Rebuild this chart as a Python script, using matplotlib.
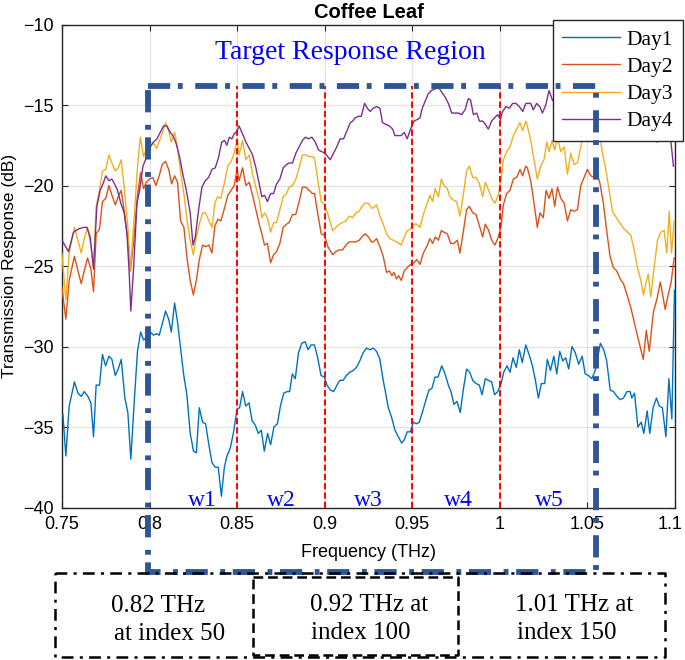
import matplotlib
matplotlib.use('Agg')
import matplotlib.pyplot as plt
from matplotlib.lines import Line2D
from matplotlib.transforms import ScaledTranslation

plt.rcParams['lines.scale_dashes'] = False
plt.rcParams['font.family'] = ['Liberation Sans', 'DejaVu Sans']

# ---------------- data ----------------
day1_freq = [0.7505, 0.7522, 0.7541, 0.7571, 0.7591, 0.7610, 0.7627, 0.7648, 0.7665, 0.7680,
             0.7695, 0.7714, 0.7731, 0.7749, 0.7768, 0.7785, 0.7804, 0.7821, 0.7838, 0.7859,
             0.7876, 0.7893, 0.7912, 0.7931, 0.7949, 0.7966, 0.7985, 0.8004, 0.8023, 0.8040,
             0.8055, 0.8070, 0.8091, 0.8109, 0.8124, 0.8143, 0.8160, 0.8175, 0.8194, 0.8213,
             0.8232, 0.8251, 0.8267, 0.8284, 0.8303, 0.8320, 0.8337, 0.8356, 0.8375, 0.8392,
             0.8410, 0.8427, 0.8442, 0.8461, 0.8480, 0.8499, 0.8514, 0.8531, 0.8549, 0.8568,
             0.8585, 0.8604, 0.8621, 0.8638, 0.8655, 0.8674, 0.8691, 0.8710, 0.8730, 0.8747,
             0.8766, 0.8785, 0.8800, 0.8815, 0.8832, 0.8850, 0.8869, 0.8888, 0.8905, 0.8922,
             0.8941, 0.8960, 0.8979, 0.8998, 0.9013, 0.9032, 0.9051, 0.9070, 0.9086, 0.9105,
             0.9124, 0.9143, 0.9162, 0.9181, 0.9200, 0.9219, 0.9238, 0.9258, 0.9277, 0.9296,
             0.9315, 0.9334, 0.9348, 0.9363, 0.9382, 0.9401, 0.9420, 0.9439, 0.9454, 0.9471,
             0.9489, 0.9506, 0.9523, 0.9540, 0.9557, 0.9576, 0.9595, 0.9612, 0.9630, 0.9647,
             0.9668, 0.9687, 0.9706, 0.9721, 0.9738, 0.9755, 0.9774, 0.9791, 0.9810, 0.9828,
             0.9845, 0.9864, 0.9883, 0.9898, 0.9917, 0.9934, 0.9953, 0.9970, 0.9988, 1.0007,
             1.0022, 1.0041, 1.0058, 1.0075, 1.0094, 1.0111, 1.0128, 1.0148, 1.0167, 1.0186,
             1.0203, 1.0220, 1.0237, 1.0256, 1.0271, 1.0289, 1.0308, 1.0325, 1.0342, 1.0359,
             1.0376, 1.0393, 1.0412, 1.0431, 1.0450, 1.0470, 1.0487, 1.0506, 1.0525, 1.0544,
             1.0574, 1.0593, 1.0610, 1.0630, 1.0649, 1.0668, 1.0687, 1.0706, 1.0725, 1.0744,
             1.0753, 1.0769, 1.0788, 1.0807, 1.0822, 1.0841, 1.0856, 1.0875, 1.0894, 1.0910,
             1.0928, 1.0948, 1.0965, 1.0982, 1.0997]
day1_db = [-34.2, -36.8, -33.7, -32.2, -32.9, -33.1, -32.8, -33.1, -33.5, -35.6,
           -32.4, -32.4, -30.5, -31.2, -30.6, -30.8, -31.8, -31.4, -30.8, -33.2,
           -34.1, -37.0, -33.5, -30.3, -29.1, -29.6, -29.4, -29.1, -29.3, -29.2,
           -29.3, -28.7, -27.8, -28.3, -29.1, -27.3, -28.5, -29.9, -31.7, -33.0,
           -35.4, -36.5, -36.6, -33.8, -34.7, -34.8, -36.0, -37.2, -37.5, -37.5,
           -39.3, -37.5, -36.8, -36.3, -35.3, -33.9, -33.8, -32.8, -33.7, -33.5,
           -34.6, -34.9, -35.4, -35.2, -36.5, -35.4, -36.1, -35.0, -34.8, -33.7,
           -32.9, -32.8, -32.8, -31.7, -32.0, -30.4, -29.8, -29.7, -30.2, -29.9,
           -29.9, -30.7, -31.8, -31.9, -32.4, -32.7, -32.8, -32.4, -32.1, -32.1,
           -31.8, -31.6, -31.5, -31.3, -30.9, -30.4, -30.1, -30.2, -30.1, -30.3,
           -30.8, -32.1, -32.9, -33.8, -34.4, -35.2, -35.6, -36.0, -35.8, -35.3,
           -35.3, -34.7, -34.8, -34.7, -34.1, -33.4, -32.7, -32.6, -31.9, -31.9,
           -31.2, -31.7, -32.4, -32.8, -33.6, -33.4, -34.1, -32.7, -31.4, -31.6,
           -32.1, -32.3, -32.4, -33.0, -32.0, -32.1, -32.2, -33.0, -32.8, -32.3,
           -31.6, -31.2, -31.6, -30.7, -31.3, -30.2, -31.0, -29.9, -30.5, -31.2,
           -32.1, -33.2, -32.3, -32.3, -30.8, -31.5, -30.6, -31.7, -30.3, -30.9,
           -30.7, -31.4, -30.0, -30.4, -31.1, -30.6, -31.7, -31.8, -32.0, -31.5,
           -29.8, -30.2, -30.9, -32.7, -32.8, -33.1, -33.3, -33.2, -32.8, -32.8,
           -33.2, -32.9, -35.0, -34.7, -35.4, -34.0, -35.4, -33.8, -33.2, -33.7,
           -33.8, -35.6, -32.0, -34.5, -26.5]

day2_freq = [0.7499, 0.7522, 0.7541, 0.7571, 0.7591, 0.7610, 0.7627, 0.7646, 0.7665, 0.7680,
             0.7695, 0.7714, 0.7731, 0.7750, 0.7768, 0.7785, 0.7804, 0.7821, 0.7838, 0.7857,
             0.7876, 0.7891, 0.7912, 0.7930, 0.7949, 0.7966, 0.7981, 0.8000, 0.8019, 0.8036,
             0.8055, 0.8072, 0.8091, 0.8109, 0.8126, 0.8143, 0.8160, 0.8177, 0.8196, 0.8215,
             0.8232, 0.8250, 0.8267, 0.8284, 0.8303, 0.8320, 0.8339, 0.8356, 0.8373, 0.8390,
             0.8407, 0.8428, 0.8447, 0.8466, 0.8483, 0.8500, 0.8511, 0.8531, 0.8550, 0.8569,
             0.8588, 0.8607, 0.8626, 0.8641, 0.8656, 0.8673, 0.8691, 0.8708, 0.8725, 0.8744,
             0.8763, 0.8782, 0.8797, 0.8816, 0.8835, 0.8854, 0.8873, 0.8892, 0.8911, 0.8930,
             0.8942, 0.8961, 0.8980, 0.8999, 0.9018, 0.9045, 0.9064, 0.9083, 0.9102, 0.9121,
             0.9140, 0.9159, 0.9178, 0.9197, 0.9212, 0.9231, 0.9250, 0.9266, 0.9277, 0.9296,
             0.9315, 0.9334, 0.9353, 0.9369, 0.9384, 0.9395, 0.9410, 0.9422, 0.9437, 0.9454,
             0.9471, 0.9490, 0.9510, 0.9525, 0.9544, 0.9563, 0.9582, 0.9601, 0.9616, 0.9631,
             0.9649, 0.9666, 0.9681, 0.9700, 0.9719, 0.9738, 0.9757, 0.9772, 0.9791, 0.9810,
             0.9826, 0.9845, 0.9864, 0.9883, 0.9902, 0.9917, 0.9936, 0.9953, 0.9972, 0.9991,
             1.0007, 1.0020, 1.0039, 1.0058, 1.0077, 1.0096, 1.0115, 1.0130, 1.0148, 1.0157,
             1.0176, 1.0195, 1.0214, 1.0229, 1.0248, 1.0264, 1.0281, 1.0298, 1.0313, 1.0329,
             1.0348, 1.0367, 1.0386, 1.0405, 1.0424, 1.0443, 1.0462, 1.0481, 1.0500, 1.0519,
             1.0538, 1.0553, 1.0572, 1.0591, 1.0610, 1.0629, 1.0648, 1.0667, 1.0687, 1.0706,
             1.0729, 1.0748, 1.0785, 1.0808, 1.0819, 1.0836, 1.0853, 1.0876, 1.0898, 1.0916,
             1.0933, 1.0944, 1.0961, 1.0978, 1.0995]
day2_db = [-26.3, -28.3, -25.9, -24.4, -25.3, -26.1, -25.3, -24.5, -25.2, -26.6,
           -23.0, -22.7, -21.0, -20.8, -20.0, -20.6, -21.2, -20.7, -20.3, -21.7,
           -23.4, -25.3, -23.2, -20.7, -19.2, -20.2, -19.8, -19.6, -19.5, -20.0,
           -19.4, -18.7, -18.5, -19.0, -19.9, -19.4, -19.8, -22.2, -22.6, -24.6,
           -25.9, -26.8, -25.9, -24.6, -23.7, -23.8, -23.7, -24.2, -22.5, -22.1,
           -22.2, -21.4, -20.6, -20.3, -20.0, -19.0, -19.7, -18.9, -20.0, -19.8,
           -20.6, -21.5, -22.4, -23.0, -23.7, -23.6, -24.8, -24.3, -24.1, -23.6,
           -22.6, -22.4, -22.3, -21.8, -21.8, -21.0, -20.1, -20.1, -20.3, -20.5,
           -20.5, -21.8, -23.0, -23.1, -23.8, -24.3, -24.1, -24.0, -24.0, -23.7,
           -23.5, -23.5, -23.5, -23.4, -23.2, -23.0, -23.2, -23.5, -23.5, -23.3,
           -23.8, -24.4, -25.4, -25.3, -25.6, -25.4, -25.8, -25.6, -25.9, -25.3,
           -25.1, -24.9, -24.8, -24.6, -24.9, -24.2, -23.8, -23.3, -23.6, -23.2,
           -23.4, -22.8, -22.9, -23.0, -23.6, -23.6, -23.4, -24.2, -22.9, -21.5,
           -21.3, -21.7, -21.8, -22.5, -23.2, -22.4, -22.8, -23.4, -23.7, -23.2,
           -22.5, -21.2, -20.5, -20.3, -19.6, -19.5, -19.0, -19.4, -18.8, -18.9,
           -19.7, -21.1, -22.6, -21.7, -22.0, -20.3, -20.8, -20.2, -21.3, -20.1,
           -20.8, -21.1, -22.2, -21.5, -21.6, -21.5, -20.0, -19.5, -19.0, -19.4,
           -19.5, -19.1, -19.9, -21.1, -22.8, -24.4, -25.1, -25.3, -25.8, -26.1,
           -26.9, -27.6, -29.3, -30.3, -30.8, -29.0, -30.3, -27.9, -27.0, -26.0,
           -27.0, -27.7, -26.8, -26.0, -24.5]

day3_freq = [0.7499, 0.7522, 0.7541, 0.7571, 0.7591, 0.7610, 0.7627, 0.7646, 0.7665, 0.7680,
             0.7695, 0.7714, 0.7731, 0.7750, 0.7768, 0.7785, 0.7804, 0.7821, 0.7838, 0.7857,
             0.7876, 0.7891, 0.7912, 0.7930, 0.7947, 0.7966, 0.7985, 0.8004, 0.8023, 0.8040,
             0.8057, 0.8074, 0.8091, 0.8109, 0.8124, 0.8143, 0.8160, 0.8179, 0.8196, 0.8215,
             0.8232, 0.8250, 0.8267, 0.8284, 0.8303, 0.8320, 0.8339, 0.8356, 0.8373, 0.8388,
             0.8407, 0.8428, 0.8447, 0.8466, 0.8483, 0.8500, 0.8511, 0.8531, 0.8550, 0.8569,
             0.8588, 0.8607, 0.8626, 0.8641, 0.8656, 0.8673, 0.8691, 0.8708, 0.8725, 0.8744,
             0.8763, 0.8782, 0.8797, 0.8816, 0.8835, 0.8854, 0.8873, 0.8892, 0.8911, 0.8927,
             0.8942, 0.8961, 0.8980, 0.8999, 0.9022, 0.9045, 0.9064, 0.9083, 0.9102, 0.9121,
             0.9140, 0.9159, 0.9178, 0.9197, 0.9212, 0.9231, 0.9250, 0.9266, 0.9277, 0.9296,
             0.9315, 0.9334, 0.9353, 0.9372, 0.9391, 0.9410, 0.9437, 0.9454, 0.9471, 0.9490,
             0.9510, 0.9525, 0.9544, 0.9563, 0.9582, 0.9601, 0.9616, 0.9631, 0.9649, 0.9666,
             0.9681, 0.9700, 0.9715, 0.9734, 0.9753, 0.9772, 0.9791, 0.9810, 0.9826, 0.9845,
             0.9864, 0.9883, 0.9902, 0.9917, 0.9936, 0.9953, 0.9972, 0.9991, 1.0007, 1.0020,
             1.0039, 1.0058, 1.0077, 1.0096, 1.0115, 1.0130, 1.0148, 1.0157, 1.0176, 1.0195,
             1.0214, 1.0233, 1.0252, 1.0268, 1.0281, 1.0298, 1.0313, 1.0329, 1.0348, 1.0367,
             1.0386, 1.0405, 1.0424, 1.0443, 1.0462, 1.0477, 1.0500, 1.0529, 1.0548, 1.0567,
             1.0586, 1.0605, 1.0624, 1.0643, 1.0671, 1.0690, 1.0709, 1.0729, 1.0748, 1.0763,
             1.0786, 1.0805, 1.0820, 1.0833, 1.0847, 1.0862, 1.0881, 1.0900, 1.0919, 1.0938,
             1.0953, 1.0967, 1.0980, 1.0995]
day3_db = [-24.2, -27.1, -24.2, -22.6, -23.4, -24.2, -23.3, -22.6, -23.8, -25.1,
           -21.3, -20.3, -19.1, -19.0, -18.1, -18.6, -19.1, -18.9, -18.4, -20.3,
           -22.6, -25.2, -22.0, -19.0, -17.0, -18.2, -17.6, -17.3, -17.4, -17.7,
           -17.2, -16.7, -16.1, -16.6, -17.3, -16.7, -17.7, -19.3, -20.5, -22.2,
           -23.4, -24.3, -23.2, -22.4, -21.7, -21.7, -22.2, -22.6, -21.1, -20.7,
           -20.8, -19.8, -18.8, -18.5, -18.0, -17.1, -18.1, -17.2, -18.4, -18.1,
           -19.3, -20.1, -20.9, -22.0, -21.7, -22.0, -22.9, -22.3, -22.3, -21.5,
           -20.7, -20.5, -20.1, -20.0, -19.6, -18.9, -18.1, -18.1, -18.2, -18.2,
           -18.3, -19.7, -21.0, -21.2, -21.9, -22.8, -22.6, -22.4, -22.3, -22.2,
           -21.9, -22.0, -21.7, -21.6, -21.3, -21.1, -21.1, -21.4, -21.4, -21.2,
           -21.9, -22.4, -23.0, -23.3, -23.4, -23.5, -23.7, -23.2, -22.8, -22.7,
           -22.4, -22.4, -22.6, -21.8, -21.2, -20.6, -21.0, -20.2, -20.7, -19.6,
           -20.0, -20.2, -20.7, -20.9, -21.0, -21.9, -20.6, -19.1, -18.8, -19.5,
           -19.5, -19.9, -20.7, -19.8, -20.3, -20.8, -21.1, -20.6, -19.6, -18.4,
           -17.9, -17.6, -16.9, -16.5, -16.1, -16.6, -16.0, -16.3, -17.2, -18.4,
           -19.6, -18.8, -18.4, -17.3, -17.9, -17.2, -17.8, -17.0, -17.9, -17.6,
           -19.3, -18.0, -18.7, -18.6, -17.6, -16.9, -16.5, -15.7, -15.7, -16.6,
           -18.0, -19.0, -20.3, -21.6, -22.1, -22.4, -22.7, -22.9, -23.1, -23.8,
           -25.1, -25.9, -26.8, -26.1, -25.5, -26.9, -25.1, -23.4, -22.9, -22.8,
           -24.2, -21.6, -24.2, -22.2]

day4_freq = [0.7505, 0.7537, 0.7566, 0.7594, 0.7623, 0.7642, 0.7661, 0.7680, 0.7699, 0.7718,
             0.7734, 0.7750, 0.7768, 0.7785, 0.7800, 0.7817, 0.7836, 0.7855, 0.7871, 0.7884,
             0.7893, 0.7909, 0.7928, 0.7943, 0.7962, 0.7977, 0.7989, 0.8004, 0.8023, 0.8042,
             0.8061, 0.8080, 0.8099, 0.8118, 0.8133, 0.8152, 0.8171, 0.8190, 0.8210, 0.8232,
             0.8248, 0.8261, 0.8280, 0.8299, 0.8318, 0.8337, 0.8356, 0.8375, 0.8393, 0.8412,
             0.8428, 0.8441, 0.8456, 0.8470, 0.8483, 0.8500, 0.8511, 0.8531, 0.8550, 0.8569,
             0.8588, 0.8607, 0.8626, 0.8641, 0.8656, 0.8673, 0.8691, 0.8708, 0.8725, 0.8744,
             0.8763, 0.8782, 0.8797, 0.8816, 0.8835, 0.8854, 0.8873, 0.8889, 0.8908, 0.8927,
             0.8946, 0.8965, 0.8984, 0.9003, 0.9031, 0.9050, 0.9069, 0.9088, 0.9108, 0.9127,
             0.9146, 0.9159, 0.9174, 0.9193, 0.9209, 0.9228, 0.9243, 0.9260, 0.9277, 0.9296,
             0.9315, 0.9330, 0.9350, 0.9369, 0.9388, 0.9401, 0.9420, 0.9437, 0.9454, 0.9471,
             0.9490, 0.9510, 0.9529, 0.9544, 0.9557, 0.9572, 0.9591, 0.9610, 0.9630, 0.9649,
             0.9668, 0.9687, 0.9706, 0.9725, 0.9744, 0.9763, 0.9782, 0.9801, 0.9820, 0.9833,
             0.9849, 0.9868, 0.9883, 0.9902, 0.9917, 0.9934, 0.9953, 0.9969, 0.9988, 1.0003,
             1.0016, 1.0035, 1.0054, 1.0073, 1.0092, 1.0111, 1.0131, 1.0148, 1.0157, 1.0176,
             1.0191, 1.0210, 1.0228, 1.0243, 1.0262, 1.0281, 1.0300, 1.0319, 1.0338, 1.0375,
             1.0415, 1.0461, 1.0518, 1.0575, 1.0633, 1.0671, 1.0690, 1.0709, 1.0728, 1.0747,
             1.0767, 1.0786, 1.0814, 1.0843, 1.0871, 1.0900, 1.0928, 1.0957, 1.0976, 1.0991]
day4_db = [-23.5, -24.1, -22.9, -22.7, -22.6, -22.6, -23.2, -25.2, -21.3, -20.3,
           -19.9, -19.4, -19.7, -19.6, -19.9, -20.3, -21.1, -21.7, -23.0, -25.5,
           -27.8, -25.1, -21.1, -20.3, -18.8, -18.4, -18.1, -17.6, -17.3, -17.1,
           -16.7, -16.3, -16.3, -16.7, -16.9, -17.4, -18.2, -19.3, -20.3, -21.7,
           -23.7, -23.2, -21.5, -20.1, -19.7, -19.5, -19.0, -18.9, -18.3, -17.3,
           -17.2, -17.5, -17.0, -17.1, -16.8, -16.6, -16.3, -16.8, -17.3, -17.7,
           -18.1, -18.9, -19.9, -20.7, -20.6, -21.0, -20.5, -20.5, -19.9, -19.6,
           -18.9, -18.7, -18.6, -18.6, -18.0, -17.6, -17.2, -17.0, -17.1, -17.0,
           -17.3, -17.8, -17.9, -18.0, -18.4, -18.0, -17.6, -17.1, -17.1, -16.6,
           -16.1, -16.0, -15.8, -15.7, -15.7, -14.9, -15.2, -15.4, -15.2, -15.1,
           -15.2, -16.1, -16.2, -16.3, -16.5, -16.9, -16.9, -16.9, -16.7, -17.1,
           -16.5, -16.0, -15.9, -15.8, -15.2, -14.8, -14.3, -14.1, -14.0, -13.9,
           -14.2, -14.5, -14.9, -15.5, -15.5, -15.5, -15.6, -15.3, -14.6, -14.7,
           -15.6, -15.5, -16.0, -16.0, -16.2, -16.5, -16.0, -15.8, -15.6, -15.9,
           -15.4, -15.1, -15.2, -14.9, -14.9, -15.1, -15.4, -14.9, -14.9, -14.9,
           -15.3, -14.9, -15.1, -15.5, -15.0, -14.1, -14.7, -14.9, -14.7, -15.0,
           -15.3, -15.5, -15.8, -16.2, -16.7, -17.1, -17.2, -17.0, -16.9, -17.1,
           -17.0, -17.1, -17.2, -17.1, -17.1, -17.3, -16.9, -17.0, -17.2, -18.8]

series_labels = ['Day1', 'Day2', 'Day3', 'Day4']
series_colors = ['#0072BD', '#D95319', '#EDB120', '#7E2F8E']

x_ticks = [0.75, 0.8, 0.85, 0.9, 0.95, 1.0, 1.05, 1.1]
x_tick_labels = ['0.75', '0.8', '0.85', '0.9', '0.95', '1', '1.05', '1.1']
y_ticks = [-40, -35, -30, -25, -20, -15, -10]

window_edges = [0.85, 0.9, 0.95, 1.0]
window_labels = ['w1', 'w2', 'w3', 'w4', 'w5']
window_label_x = [0.8304, 0.8753, 0.9248, 0.9764, 1.0283]

# ---------------- figure ----------------
W, H = 685, 660
fig = plt.figure(figsize=(W / 100, H / 100), dpi=100)


def fx(px):
    return px / W


def fy(py):
    return 1 - py / H


ax = fig.add_axes([fx(62), fy(507.5), (675 - 62) / W, (507.5 - 24.5) / H])

xs = [day1_freq, day2_freq, day3_freq, day4_freq]
ys = [day1_db, day2_db, day3_db, day4_db]
for xv, yv, lab, col in zip(xs, ys, series_labels, series_colors):
    ax.plot(xv, yv, color=col, lw=1.0, label=lab, zorder=3)

ax.set_xlim(0.75, 1.1)
ax.set_ylim(-40, -10)
ax.set_xticks(x_ticks)
ax.set_xticklabels(x_tick_labels)
ax.set_yticks(y_ticks)
ax.tick_params(direction='in', top=True, right=True, length=4, width=0.8,
               labelsize=13, colors='#262626', labelcolor='black', pad=6)
ax.grid(True, color='#e3e3e3', lw=0.9, zorder=0)
ax.set_axisbelow(True)
for s in ax.spines.values():
    s.set_linewidth(1.0)
    s.set_color('#262626')

# keep the last x tick label inside the canvas
last_lab = ax.get_xticklabels()[-1]
last_lab.set_transform(last_lab.get_transform() +
                       ScaledTranslation(-5 / 100, 0, fig.dpi_scale_trans))

ax.set_title('Coffee Leaf', fontsize=14.5, fontweight='bold', pad=5)
ax.set_xlabel('Frequency (THz)', fontsize=13, labelpad=8)
ax.set_ylabel('Transmission Response (dB)', fontsize=12.5, labelpad=4)

# red window boundaries
region_top = -13.82
for xe in window_edges:
    ax.plot([xe, xe], [-40, region_top], color='red', lw=1.4,
            ls=(0, (4.5, 2.2)), zorder=4)

for lab, xl in zip(window_labels, window_label_x):
    ax.text(xl, -39.9, lab, color='blue', fontsize=17, ha='center', va='baseline',
            family=['Liberation Serif', 'DejaVu Serif'], zorder=5)

ax.text(0.9147, -11.75, 'Target Response Region', color='blue', fontsize=20,
        ha='center', va='center', family=['Liberation Serif', 'DejaVu Serif'])

leg = ax.legend(loc='upper right', bbox_to_anchor=(fx(683), fy(20)),
                bbox_transform=fig.transFigure, fancybox=False, framealpha=1,
                edgecolor='#262626', prop={'family': 'Liberation Serif', 'size': 15.5},
                handlelength=2.7, handletextpad=0.3, labelspacing=0.33,
                borderpad=0.45, borderaxespad=0)
leg.get_frame().set_linewidth(1.0)
leg.set_zorder(6)

# blue target-region rectangle (extends below the axes)
rect_x = [0.799, 1.0547, 1.0547, 0.799, 0.799]
rect_y = [region_top, region_top, -44.03, -44.03, region_top]
ax.plot(rect_x, rect_y, color='#2F5597', lw=4.2, ls=(0, (16, 5.5, 3.5, 9)),
        clip_on=False, zorder=10, solid_capstyle='butt', dash_capstyle='butt')

# black dash-dot boxes under the chart
dd = (0, (8.5, 4.5, 2.2, 4.5))
outer = [(55, 573), (665, 573), (665, 657), (55, 657), (55, 573)]
fig.add_artist(Line2D([fx(p[0]) for p in outer], [fy(p[1]) for p in outer],
                      color='black', lw=1.8, ls=dd))
mid = [(253, 577), (458, 577), (458, 655), (253, 655), (253, 577)]
fig.add_artist(Line2D([fx(p[0]) for p in mid], [fy(p[1]) for p in mid],
                      color='black', lw=1.8, ls=(0, (7, 3.5))))

serif = ['Liberation Serif', 'DejaVu Serif']
box_texts = [('0.82 THz', 111, 612), ('at index 50', 114, 640),
             ('0.92 THz at', 310, 611), ('index 100', 311, 639),
             ('1.01 THz at', 515, 611), ('index 150', 517, 639)]
for t, px, py in box_texts:
    fig.text(fx(px), fy(py), t, fontsize=18, family=serif, ha='left', va='baseline')

fig.savefig('out.png', dpi=100)
